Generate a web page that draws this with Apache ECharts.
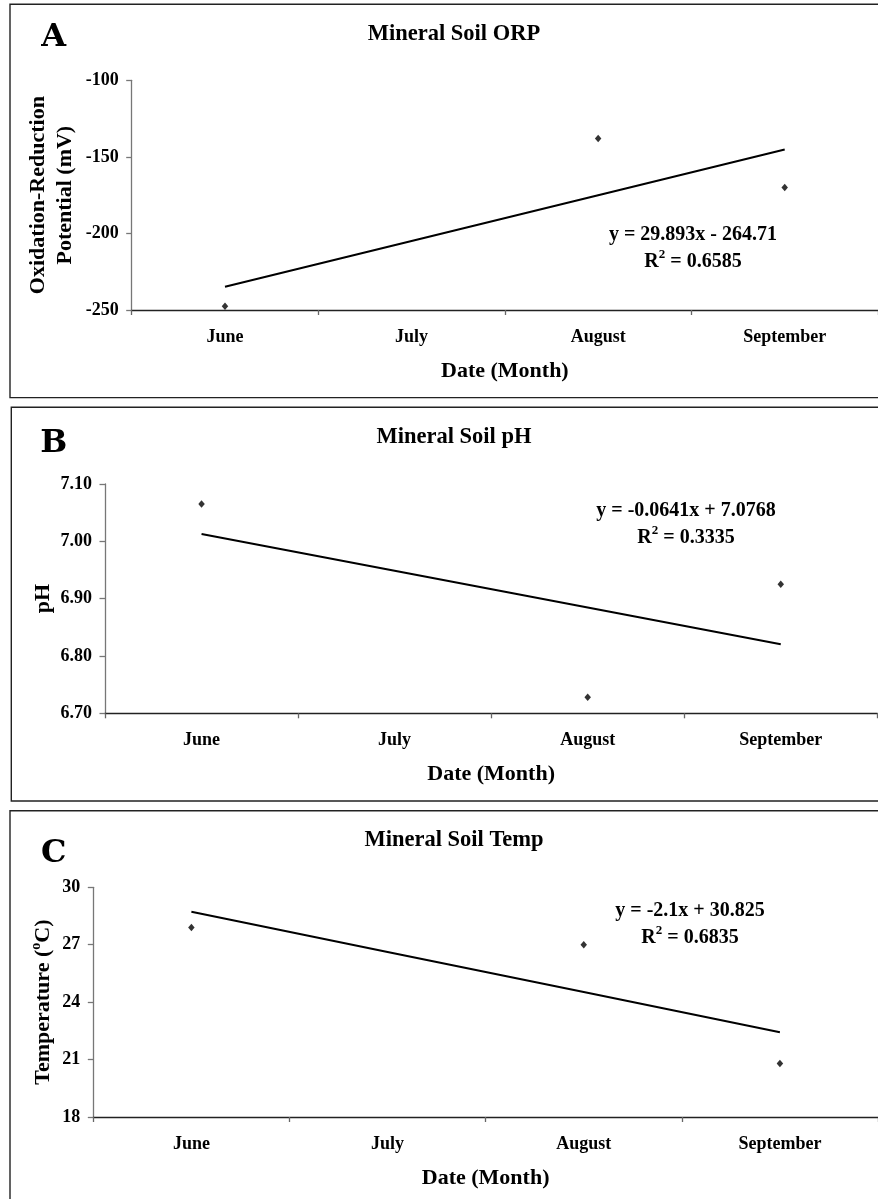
<!DOCTYPE html>
<html>
<head>
<meta charset="utf-8">
<title>Mineral Soil ORP, pH and Temperature</title>
<script src="https://cdn.jsdelivr.net/npm/echarts@6/dist/echarts.min.js"></script>
<style>
  html, body { margin: 0; padding: 0; background: #fff; }
  #chart { width: 878px; height: 1199px; }
</style>
</head>
<body>
<div id="chart"></div>
<script>
// Sampling months (x = 1..4 in the regression fits)
const months = ['June', 'July', 'August', 'September'];

// Panel A: oxidation-reduction potential (mV); July was not sampled
const orpValues = [-247.5, '-', -138, -170];
const orpFit = { slope: 29.893, intercept: -264.71, r2: '0.6585' };
const orpTicks = { min: -250, max: -100, interval: 50 };

// Panel B: pH
const phValues = [7.065, '-', 6.728, 6.925];
const phFit = { slope: -0.0641, intercept: 7.0768, r2: '0.3335' };
const phTicks = { min: 6.70, max: 7.10, interval: 0.10 };

// Panel C: temperature (°C)
const tempValues = [27.9, '-', 27.0, 20.8];
const tempFit = { slope: -2.1, intercept: 30.825, r2: '0.6835' };
const tempTicks = { min: 18, max: 30, interval: 3 };

const FONT = '"Liberation Serif", "Times New Roman", serif';
const fitLine = fit => months.map((m, i) => +(fit.intercept + fit.slope * (i + 1)).toFixed(4));
const fmtSigned = v => (v < 0 ? ' - ' : ' + ') + Math.abs(v);

const panels = [
  { letter: 'A', title: 'Mineral Soil ORP', values: orpValues, fit: orpFit, ticks: orpTicks,
    decimals: 0, yName: 'Oxidation-Reduction\nPotential (mV)', yNameGap: 52.5,
    grid: { left: 131.7, top: 80.3, width: 749.3, height: 229.7 },
    box: { x: 10, y: 4.3, height: 393.3 }, letterY: 38, titleY: 31.7,
    eq: { x: 693, y: 248.5 } },
  { letter: 'B', title: 'Mineral Soil pH', values: phValues, fit: phFit, ticks: phTicks,
    decimals: 2, yName: 'pH', yNameGap: 47.5,
    grid: { left: 105, top: 484, width: 772.3, height: 229.3 },
    box: { x: 11.3, y: 407.3, height: 393.7 }, letterY: 444, titleY: 435,
    eq: { x: 686, y: 524 } },
  { letter: 'C', title: 'Mineral Soil Temp', values: tempValues, fit: tempFit, ticks: tempTicks,
    decimals: 0, yName: '{n|Temperature (}{sup|o}{n|C)}', yNameGap: 36,
    grid: { left: 93.3, top: 887.3, width: 787.2, height: 229.7 },
    box: { x: 10, y: 810.7, height: 500 }, letterY: 853.3, titleY: 838.3,
    eq: { x: 690, y: 924 } }
];

const chart = echarts.init(document.getElementById('chart'), null, { renderer: 'canvas' });

const grid = [], xAxis = [], yAxis = [], series = [], title = [], graphic = [];

panels.forEach((p, i) => {
  grid.push(Object.assign({ containLabel: false }, p.grid));

  xAxis.push({
    type: 'category', gridIndex: i, data: months, boundaryGap: true,
    name: 'Date (Month)', nameLocation: 'middle', nameGap: 50.5, nameMoveOverlap: false,
    nameTextStyle: { fontFamily: FONT, fontWeight: 'bold', fontSize: 22, color: '#000' },
    axisLine: { lineStyle: { color: '#222', width: 1.3 } },
    axisTick: { show: true, length: 5, inside: false, lineStyle: { color: '#666', width: 1.3 } },
    axisLabel: { margin: 18, fontFamily: FONT, fontWeight: 'bold', fontSize: 18, color: '#000' },
    splitLine: { show: false }
  });

  yAxis.push({
    type: 'value', gridIndex: i,
    min: p.ticks.min, max: p.ticks.max, interval: p.ticks.interval,
    name: p.yName, nameLocation: 'middle', nameGap: p.yNameGap, nameRotate: 90,
    nameMoveOverlap: false,
    nameTextStyle: {
      fontFamily: FONT, fontWeight: 'bold', fontSize: 22, color: '#000', lineHeight: 27.5,
      rich: {
        n: { fontFamily: FONT, fontWeight: 'bold', fontSize: 22, color: '#000' },
        sup: { fontFamily: FONT, fontWeight: 'bold', fontSize: 14, color: '#000', verticalAlign: 'top', padding: [0, 0, 9, 0] }
      }
    },
    axisLine: { show: true, lineStyle: { color: '#777', width: 1.3 } },
    axisTick: { show: true, length: 5.5, lineStyle: { color: '#777', width: 1.3 } },
    axisLabel: {
      margin: 13, fontFamily: FONT, fontWeight: 'bold', fontSize: 18, color: '#000',
      formatter: v => v.toFixed(p.decimals)
    },
    splitLine: { show: false }
  });

  // Linear trendline from the fitted equation
  series.push({
    type: 'line', xAxisIndex: i, yAxisIndex: i, data: fitLine(p.fit),
    showSymbol: false, symbol: 'none', silent: true,
    lineStyle: { color: '#000', width: 2 }, z: 2
  });

  // Measured monthly values
  series.push({
    type: 'scatter', xAxisIndex: i, yAxisIndex: i, data: p.values,
    symbol: 'diamond', symbolSize: [6.5, 7.5],
    itemStyle: { color: '#000' }, z: 3
  });

  title.push({
    text: p.title, left: 449, top: p.titleY - 14.5, textAlign: 'center',
    textStyle: { fontFamily: FONT, fontWeight: 'bold', fontSize: 22.5, color: '#000' }
  });

  // Panel frame
  graphic.push({
    type: 'rect', silent: true, z: 0,
    shape: { x: p.box.x, y: p.box.y, width: 900, height: p.box.height },
    style: { fill: 'none', stroke: '#222', lineWidth: 1.4 }
  });

  // Panel letter
  graphic.push({
    type: 'text', silent: true, x: 53.7, y: p.letterY,
    style: {
      text: p.letter, align: 'center', verticalAlign: 'middle',
      font: 'bold 32px "DejaVu Serif", serif', fill: '#000'
    }
  });

  // Trendline equation and R²
  const eqText = 'y = ' + p.fit.slope + 'x' + fmtSigned(p.fit.intercept);
  graphic.push({
    type: 'text', silent: true, x: p.eq.x, y: p.eq.y,
    style: {
      text: '{t|' + eqText + '}\n{t|R}{sup|2}{t| = ' + p.fit.r2 + '}',
      align: 'center', verticalAlign: 'middle',
      rich: {
        t: { fontFamily: FONT, fontWeight: 'bold', fontSize: 20, fill: '#000', lineHeight: 27 },
        sup: { fontFamily: FONT, fontWeight: 'bold', fontSize: 13, fill: '#000', lineHeight: 27, verticalAlign: 'top', padding: [0, 0, 8, 0] }
      }
    }
  });
});

chart.setOption({
  backgroundColor: '#fff',
  animation: false,
  title, grid, xAxis, yAxis, series, graphic
});
</script>
</body>
</html>
